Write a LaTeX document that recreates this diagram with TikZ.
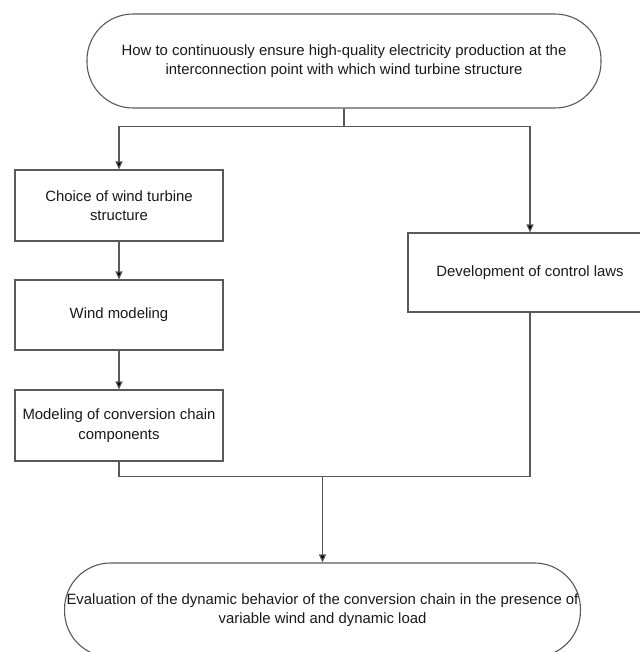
\documentclass[tikz,border=0pt]{standalone}
\usepackage{fontspec}
\setmainfont{Liberation Sans}
\usetikzlibrary{arrows.meta,positioning}

\begin{document}
\begin{tikzpicture}[x=1pt,y=-1pt,>={Triangle[length=8pt,width=7pt,fill=black]},
                    line/.style={draw=black!65,line width=1.1pt},
                    task/.style={line,rectangle,align=center,inner sep=2pt,
                                 text=black!90,font=\fontsize{14.9}{19.5}\selectfont},
                    goal/.style={task,rounded corners=46pt}]

	\useasboundingbox (0,0) rectangle (639,652);

	\node[goal,minimum width=514pt,minimum height=94pt] (Q) at (344,61)
		{How to continuously ensure high-quality electricity production at the\\
		 interconnection point with which wind turbine structure};
	\node[task,minimum width=208pt,minimum height=71pt] (S) at (119,205.5)
		{Choice of wind turbine\\structure};
	\node[task,minimum width=208pt,minimum height=70pt] (W) at (119,315)
		{Wind modeling};
	\node[task,minimum width=208pt,minimum height=71pt] (M) at (119,425.5)
		{Modeling of conversion chain\\components};
	\node[task,minimum width=244pt,minimum height=79pt] (C) at (530,272.5)
		{Development of control laws};
	\node[goal,minimum width=514pt,minimum height=94pt] (E) at (322.5,610)
		{Evaluation of the dynamic behavior of the conversion chain in the presence of\\
		 variable wind and dynamic load};

	\draw[line,->] (Q.south) -- ++(0,18) -| (S.north);
	\draw[line,->] (Q.south) -- ++(0,18) -| (C.north);
	\draw[line,->] (S) -- (W);
	\draw[line,->] (W) -- (M);
	\draw[line] (M.south) -- ++(0,15) coordinate (J) -| (C.south);
	\draw[line,->] (J -| E.north) -- (E.north);

\end{tikzpicture}
\end{document}
